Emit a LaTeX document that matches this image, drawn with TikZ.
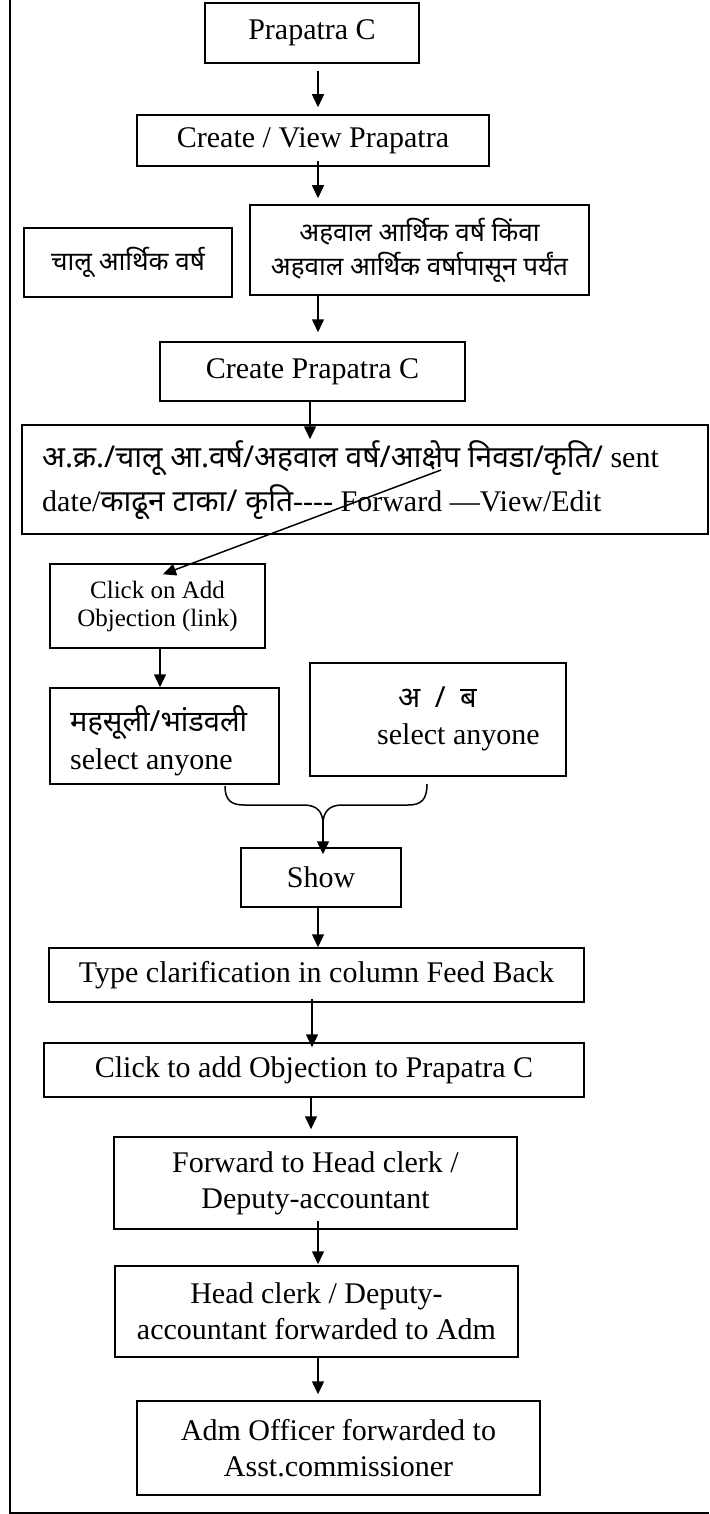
\documentclass[tikz,border=0pt]{standalone}
\usepackage{fontspec}
\setmainfont{Liberation Serif}
\newfontfamily\dev[Script=Devanagari]{Noto Sans}
\usetikzlibrary{arrows.meta,calc}
\begin{document}
\begin{tikzpicture}[x=1pt,y=-1pt,
  box/.style={draw,line width=1.5pt,inner sep=0pt,align=center,font=\fontsize{30}{36}\selectfont},
  dbox/.style={box,font=\dev\fontsize{26}{34}\selectfont},
  txt/.style={inner sep=0pt,anchor=west,align=left,font=\fontsize{30}{36}\selectfont},
  arr/.style={line width=1.5pt,-{Triangle[width=12pt,length=13pt]}},
  ln/.style={line width=1.5pt}]
\useasboundingbox (0,0) rectangle (709,1514);
% frame
\draw[ln] (10,0) -- (10,1513) -- (709,1513);
% boxes
\node[box,minimum width=214pt,minimum height=60pt] (pc) at (312,33) {Prapatra C};
\node[box,minimum width=352pt,minimum height=51pt] (cv) at (313,140.5) {Create / View Prapatra};
\node[dbox,minimum width=208pt,minimum height=69pt] (ch) at (128,262.5) {चालू आर्थिक वर्ष};
\node[dbox,minimum width=339pt,minimum height=90pt] (ah) at (419.5,250) {अहवाल आर्थिक वर्ष किंवा\\अहवाल आर्थिक वर्षापासून पर्यंत};
\node[box,minimum width=305pt,minimum height=59pt] (cp) at (312.5,371.5) {Create Prapatra C};
\node[box,minimum width=686pt,minimum height=109pt] (big) at (365,479.5) {};
\node[txt] (big1) at (42,458) {{\dev\fontsize{30}{34}\selectfont अ.क्र./चालू आ.वर्ष/अहवाल वर्ष/आक्षेप निवडा/कृति/} sent};
\node[txt] (big2) at (42,502) {date/{\dev\fontsize{30}{34}\selectfont काढून टाका/ कृति}-{}-{}-{}- Forward —View/Edit};
\node[box,minimum width=215pt,minimum height=84pt,font=\fontsize{25}{28}\selectfont] (ca) at (157.5,606) {Click on Add\\Objection (link)};
\node[box,minimum width=229pt,minimum height=96pt] (mb) at (164.5,736) {};
\node[txt] (mb1) at (70,722) {\dev\fontsize{29}{30}\selectfont महसूली/भांडवली};
\node[txt] (mb2) at (70,762) {select anyone};
\node[box,minimum width=256pt,minimum height=113pt] (ab) at (438,719.5) {};
\node[txt] (ab1) at (398,697) {\dev\fontsize{29}{30}\selectfont अ\hspace{7pt} /\hspace{7pt} ब};
\node[txt] (ab2) at (377,737) {select anyone};
\node[box,minimum width=160pt,minimum height=59pt] (sh) at (321,877.5) {Show};
\node[box,minimum width=535pt,minimum height=54pt] (tc) at (316.5,975) {Type clarification in column Feed Back};
\node[box,minimum width=540pt,minimum height=54pt] (ct) at (314,1070) {Click to add Objection to Prapatra C};
\node[box,minimum width=403pt,minimum height=92pt] (fw) at (315.5,1183) {Forward to Head clerk /\\Deputy-accountant};
\node[box,minimum width=403pt,minimum height=91pt] (hc) at (316.5,1311.5) {Head clerk / Deputy-\\accountant forwarded to Adm};
\node[box,minimum width=403pt,minimum height=94pt] (ad) at (338.5,1448) {Adm Officer forwarded to\\Asst.commissioner};
% connectors
\draw[arr] ($(pc.south)+(6,7)$) -- ($(cv.north)+(5,-7)$);
\draw[arr] ($(cv.south)+(5,-6)$) -- ($(ah.north)+(-101.5,-6)$);
\draw[arr] ($(ah.south)+(-101.5,0)$) -- ($(cp.north)+(5.5,-9)$);
\draw[arr] ($(cp.south)+(-2.5,0)$) -- ($(big.north)+(-55,15)$);
\coordinate (dstart) at (441,470);
\draw[arr] (dstart) -- ($(ca.north)+(5.5,11)$);
\draw[arr] ($(ca.south)+(2.5,0)$) -- ($(mb.north)+(-4.5,0)$);
\coordinate (bl) at (225,786);
\coordinate (br) at (427,784);
\coordinate (bc) at (323,824);
\draw[ln] (bl) .. controls (225,800) and (231,805) .. (244,805) -- (304,805) .. controls (317,805) and (323,812) .. (bc);
\draw[ln] (br) .. controls (427,800) and (421,805) .. (408,805) -- (342,805) .. controls (329,805) and (323,812) .. (bc);
\draw[arr] (bc) -- ($(sh.north)+(2,7)$);
\draw[arr] ($(sh.south)+(-3,0)$) -- ($(tc.north)+(1.5,0)$);
\draw[arr] ($(tc.south)+(-4.5,-4)$) -- ($(ct.north)+(-2,5)$);
\draw[arr] ($(ct.south)+(-3,0)$) -- ($(fw.north)+(-4.5,-7)$);
\draw[arr] ($(fw.south)+(2.5,-9)$) -- ($(hc.north)+(1.5,-1)$);
\draw[arr] ($(hc.south)+(1.5,-2)$) -- ($(ad.north)+(-20.5,-6)$);
\end{tikzpicture}
\end{document}
